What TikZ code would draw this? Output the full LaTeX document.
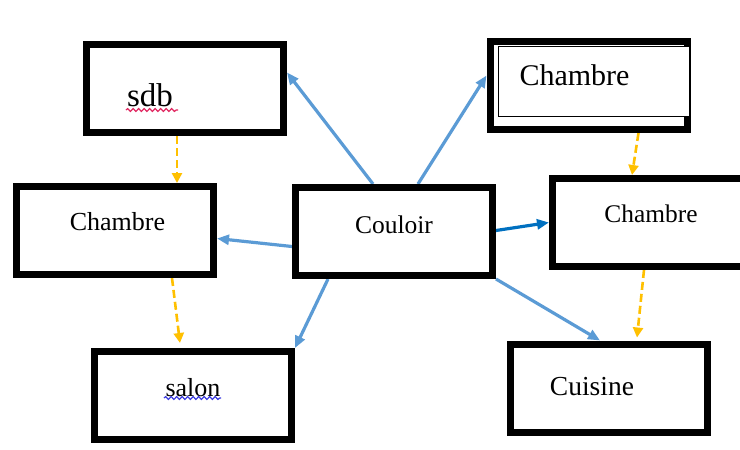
\documentclass[tikz,border=0pt]{standalone}
\usepackage{fontspec}
\setmainfont{Liberation Serif}
\usetikzlibrary{arrows.meta, positioning, calc, backgrounds, decorations.pathmorphing}
\definecolor{linkblue}{HTML}{5B9BD5}
\definecolor{linkdark}{HTML}{0070C0}
\definecolor{flowgold}{HTML}{FFC000}
\definecolor{spellred}{HTML}{E0245E}
\definecolor{spellblue}{HTML}{3838E0}

\begin{document}
\begin{tikzpicture}[
    x=1pt, y=-1pt,
    room/.style={rectangle, draw=black, fill=white, line width=7pt, minimum width=197pt, minimum height=88pt},
    roomtext/.style={font=\fontsize{26}{30}\selectfont, inner sep=0pt},
    arrow/.style={-{Triangle[length=12pt, width=10pt]}, line width=3.2pt, linkblue},
    flow/.style={-{Triangle[length=10pt, width=10pt]}, line width=2.6pt, flowgold, dash pattern=on 8pt off 4pt},
    spell/.style={decorate, decoration={snake, amplitude=1.4pt, segment length=5.5pt}, line width=1.2pt}
]
\clip (0,0) rectangle (740,450);

\node[room, label={[roomtext, font=\fontsize{33}{38}\selectfont, xshift=-35pt, yshift=-7pt]center:sdb}] (sdb) at (185,88.5) {};
\node[room, label={[roomtext, xshift=2.5pt, yshift=8.5pt]center:Chambre}] (chambreL) at (115,230.5) {};
\node[room, label={[roomtext, font=\fontsize{25.5}{30}\selectfont, yshift=7pt]center:Couloir}] (couloir) at (394,231.5) {};
\node[room] (chambreH) at (588.5,85.5) {};
\node[room, label={[roomtext, font=\fontsize{25.4}{30}\selectfont, yshift=9pt]center:Chambre}] (chambreR) at (651,222.5) {};
\node[room, label={[roomtext, yshift=7.5pt]center:salon}] (salon) at (193,395.5) {};
\node[room, label={[roomtext, font=\fontsize{27.5}{32}\selectfont, xshift=-17pt, yshift=1.5pt]center:Cuisine}] (cuisine) at (609,388) {};

% inner frame of the top room
\draw[line width=0.8pt, fill=white] ($(chambreH)+(-90.5,-39.5)$) rectangle ($(chambreH)+(100.5,30.5)$);
\node[roomtext, font=\fontsize{30}{34}\selectfont] (chambreHtext) at ($(chambreH)+(-14,-10.5)$) {Chambre};

% spelling marks
\draw[spell, spellred] ($(sdb)+(-59,21.5)$) -- ($(sdb)+(-7,21.5)$);
\draw[spell, spellblue] ($(salon)+(-29,2.5)$) -- ($(salon)+(28,2.5)$);

\begin{scope}[on background layer]
\draw[arrow] ([xshift=-21pt]couloir.north) -- ([yshift=16pt]sdb.east);
\draw[arrow] ([xshift=24pt]couloir.north) -- ([yshift=10pt]chambreH.west);
\draw[arrow] ([yshift=-15pt]couloir.west) -- ([yshift=-8pt]chambreL.east);
\draw[arrow, linkdark] ([yshift=1pt]couloir.east) -- (chambreR.west);
\draw[arrow] ([xshift=-66pt]couloir.south) -- (salon.north east);
\draw[arrow] (couloir.south east) -- ([xshift=-9pt]cuisine.north);

\draw[flow] ([xshift=-8pt]sdb.south) -- ([xshift=62pt]chambreL.north);
\draw[flow] ([xshift=57pt]chambreL.south) -- ([xshift=-13pt,yshift=5pt]salon.north);
\draw[flow] ([xshift=50pt]chambreH.south) -- ([xshift=-19pt]chambreR.north);
\draw[flow] ([xshift=-7pt]chambreR.south) -- ([xshift=28pt,yshift=3pt]cuisine.north);
\end{scope}

\end{tikzpicture}
\end{document}
